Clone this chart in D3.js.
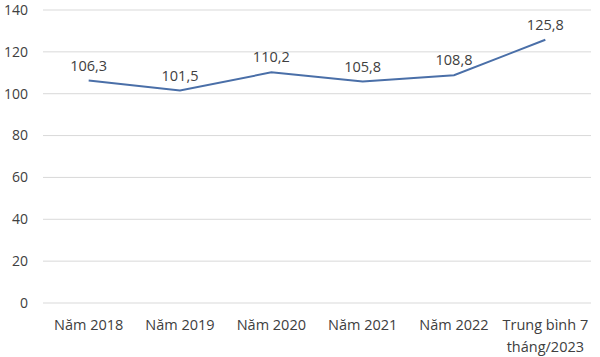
<!DOCTYPE html>
<html><head><meta charset="utf-8">
<script src="https://cdn.jsdelivr.net/npm/d3@7"></script>
<style>body{margin:0;background:#fff}svg{display:block}text{font-family:"Open Sans","Noto Sans",sans-serif;fill:#404040}</style>
</head><body><svg id="c" width="600" height="357"></svg>
<script>
const categories = ["Năm 2018","Năm 2019","Năm 2020","Năm 2021","Năm 2022","Trung bình 7|tháng/2023"];
const values = [106.3,101.5,110.2,105.8,108.8,125.8];
const valueLabels = ["106,3","101,5","110,2","105,8","108,8","125,8"];
const yTicks = [0,20,40,60,80,100,120,140];

const svg = d3.select("#c");
const m = {l:43, r:9, t:10, b:54};
const W = 600, H = 357;
const x = d3.scaleBand().domain(categories).range([m.l, W-m.r]);
const y = d3.scaleLinear().domain([0,140]).range([H-m.b, m.t]);

svg.append("g").selectAll("line").data(yTicks).join("line")
  .attr("x1", m.l).attr("x2", W-m.r)
  .attr("y1", d=>y(d)).attr("y2", d=>y(d))
  .attr("stroke", "#d9d9d9").attr("stroke-width", 1);

svg.append("g").selectAll("text").data(yTicks).join("text")
  .attr("x", 28).attr("y", d=>y(d)).attr("dy","0.35em")
  .attr("text-anchor","end").attr("font-size",14).text(d=>d);

const xl = svg.append("g").selectAll("text").data(categories).join("text")
  .attr("x", d=>x(d)+x.bandwidth()/2).attr("y", 330)
  .attr("text-anchor","middle").attr("font-size",14.5);
xl.each(function(d){
  const parts = d.split("|");
  const t = d3.select(this);
  parts.forEach((p,i)=>t.append("tspan").attr("x", x(d)+x.bandwidth()/2).attr("dy", i===0?0:22).text(p));
});

const line = d3.line().x((d,i)=>x(categories[i])+x.bandwidth()/2).y(d=>y(d));
svg.append("path").datum(values).attr("d", line)
  .attr("fill","none").attr("stroke","#4a6fa8").attr("stroke-width",2);

svg.append("g").selectAll("text").data(values).join("text")
  .attr("x",(d,i)=>x(categories[i])+x.bandwidth()/2)
  .attr("y", d=>y(d)-10)
  .attr("text-anchor","middle").attr("font-size",14.5)
  .text((d,i)=>valueLabels[i]);
</script></body></html>
